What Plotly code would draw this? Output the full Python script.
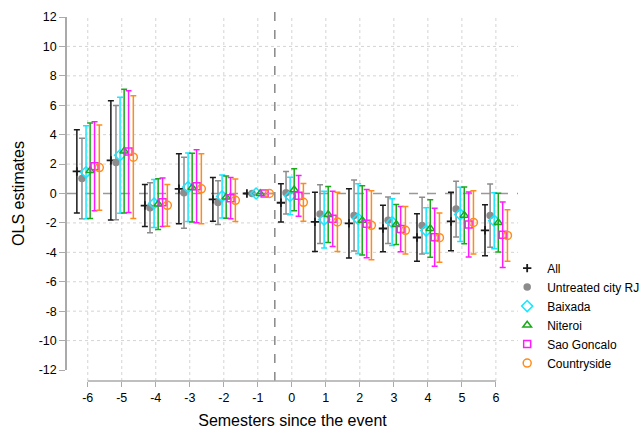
import plotly.graph_objects as go

semesters = [-6, -5, -4, -3, -2, -1, 0, 1, 2, 3, 4, 5, 6]
tick_labels = ["-6", "-5", "-4", "-3", "-2", "-1", "0", "1", "2", "3", "4", "5", "6"]
y_ticks = [12, 10, 8, 6, 4, 2, 0, -2, -4, -6, -8, -10, -12]

all_est = [1.5, 2.25, -0.82, 0.32, -0.4, 0, -0.63, -1.93, -2.03, -2.38, -2.99, -1.9, -2.5]
all_ci = [2.83, 4.05, 1.43, 2.38, 1.48, 0, 1.3, 2.02, 2.35, 1.58, 1.61, 1.99, 1.73]

untreated_est = [1.02, 2.1, -0.97, 0.05, -0.62, 0, 0.05, -1.4, -1.5, -1.82, -2.18, -1.06, -1.5]
untreated_ci = [2.74, 3.89, 1.7, 2.42, 1.48, 0, 1.45, 2.0, 2.41, 1.58, 1.93, 1.9, 2.15]

baixada_est = [1.44, 2.6, -0.68, 0.43, -0.2, 0, -0.17, -1.77, -1.72, -1.95, -2.52, -1.42, -1.85]
baixada_ci = [3.16, 3.95, 1.63, 2.33, 1.46, 0, 1.28, 1.93, 2.38, 1.59, 1.55, 1.85, 1.9]

niteroi_est = [1.55, 2.88, -0.72, 0.4, -0.25, 0, 0.25, -1.43, -1.83, -2.11, -2.38, -1.48, -1.98]
niteroi_ci = [3.25, 4.2, 1.72, 2.33, 1.44, 0, 1.43, 1.9, 2.35, 1.36, 1.96, 1.93, 2.0]

saogoncalo_est = [1.85, 2.85, -0.6, 0.5, -0.32, 0, -0.16, -1.72, -2.05, -2.42, -2.97, -2.1, -2.8]
saogoncalo_ci = [3.02, 4.14, 1.65, 2.48, 1.4, 0, 1.39, 1.88, 2.32, 1.54, 1.97, 2.21, 2.23]

countryside_est = [1.76, 2.47, -0.8, 0.32, -0.46, 0, -0.6, -1.93, -2.16, -2.5, -3.0, -1.97, -2.85]
countryside_ci = [2.9, 4.17, 1.42, 2.38, 1.44, 0, 1.28, 2.02, 2.35, 1.62, 1.67, 2.15, 1.75]

series = [
    ("All", all_est, all_ci, -0.32, "#1a1a1a",
     dict(symbol="cross-thin", size=6, line=dict(width=1.8, color="#1a1a1a"))),
    ("Untreated city RJ", untreated_est, untreated_ci, -0.17, "#8c8c8c",
     dict(symbol="circle", size=7.5)),
    ("Baixada", baixada_est, baixada_ci, -0.05, "#1ae6ff",
     dict(symbol="diamond-open", size=8.5, line=dict(width=1.5, color="#1ae6ff"))),
    ("Niteroi", niteroi_est, niteroi_ci, 0.07, "#1aa81a",
     dict(symbol="triangle-up-open", size=7.5, line=dict(width=1.5, color="#1aa81a"))),
    ("Sao Goncalo", saogoncalo_est, saogoncalo_ci, 0.2, "#ff1aff",
     dict(symbol="square-open", size=7, line=dict(width=1.5, color="#ff1aff"))),
    ("Countryside", countryside_est, countryside_ci, 0.34, "#ff8c1a",
     dict(symbol="circle-open", size=8, line=dict(width=1.5, color="#ff8c1a"))),
]

fig = go.Figure()
for name, est, ci, off, color, marker in series:
    fig.add_trace(go.Scatter(
        x=[s + off for s in semesters], y=est, name=name, mode="markers",
        marker=dict(color=color, **marker),
        error_y=dict(type="data", array=ci, symmetric=True, color=color,
                     thickness=1.5, width=3),
    ))

grid_col = "#d4d4d4"
shapes = []
for s in semesters:
    shapes.append(dict(type="line", xref="x", yref="paper", x0=s, x1=s, y0=0, y1=1,
                       line=dict(color=grid_col, width=1, dash="dot"), layer="below"))
for v in y_ticks:
    if v not in (0, 12, -12):
        shapes.append(dict(type="line", xref="paper", yref="y", x0=0, x1=1, y0=v, y1=v,
                           line=dict(color=grid_col, width=1, dash="dot"), layer="below"))
# zero reference line
shapes.append(dict(type="line", xref="paper", yref="y", x0=0, x1=1, y0=0, y1=0,
                   line=dict(color="#999999", width=1.5, dash="dash"), layer="below"))
# event line
shapes.append(dict(type="line", xref="x", yref="paper", x0=-0.5, x1=-0.5, y0=0, y1=1.02,
                   line=dict(color="#888888", width=1.5, dash="dash"), layer="below"))
# x axis line spanning the tick range
shapes.append(dict(type="line", xref="x", yref="paper", x0=semesters[0], x1=semesters[-1],
                   y0=0, y1=0, line=dict(color="#aaaaaa", width=1.5)))

fig.update_layout(
    width=643, height=430,
    margin=dict(l=67, r=125, t=17, b=49, autoexpand=False),
    paper_bgcolor="white", plot_bgcolor="white",
    font=dict(family="Liberation Sans, Arial, sans-serif", size=12.5, color="#000000"),
    shapes=shapes,
    showlegend=True,
    legend=dict(x=0.976, y=0.35, xanchor="left", yanchor="top",
                font=dict(size=12), bgcolor="rgba(0,0,0,0)",
                tracegroupgap=0, itemwidth=30),
    xaxis=dict(range=[-6.61, 6.65], tickvals=semesters, ticktext=tick_labels,
               showgrid=False, zeroline=False, showline=False,
               ticks="outside", ticklen=5, tickwidth=1.2, tickcolor="#aaaaaa",
               anchor="free", position=0,
               title=dict(text="Semesters since the event", font=dict(size=16), standoff=10)),
    yaxis=dict(range=[-12, 12], domain=[0.0302, 1], tickvals=y_ticks,
               ticktext=[str(v) for v in y_ticks],
               showgrid=False, zeroline=False, showline=True, linecolor="#aaaaaa", linewidth=1.5,
               ticks="outside", ticklen=6, tickwidth=1.2, tickcolor="#aaaaaa",
               title=dict(text="OLS estimates", font=dict(size=16), standoff=10)),
)

fig.write_html("out.html")
